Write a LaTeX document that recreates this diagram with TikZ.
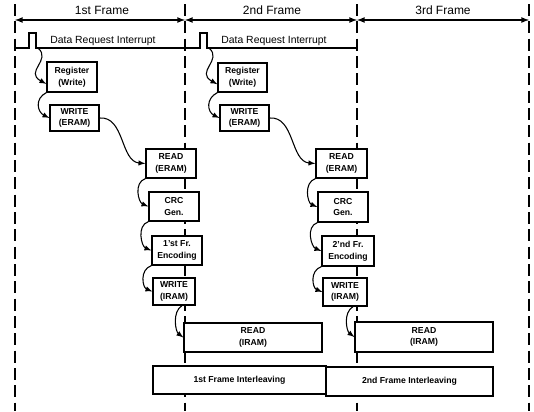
\documentclass[tikz,border=0pt]{standalone}
\usepackage{fontspec}
\setmainfont{Liberation Sans}
\usetikzlibrary{arrows}

\tikzset{
  proc/.style={draw, fill=white, line width=0.9pt, align=center, inner sep=0pt,
    font=\fontsize{6.5}{8.75}\selectfont\bfseries,
    minimum width=37.5pt, minimum height=21.75pt},
  wide/.style={proc, minimum width=103.5pt},
  flow/.style={-latex, line width=0.8pt},
  border/.style={line width=1.1pt, dash pattern=on 9pt off 4pt},
  span/.style={latex-latex, line width=1pt},
  irq/.style={line width=0.8pt},
  lbl/.style={inner sep=0pt, font=\fontsize{9}{10}\selectfont},
  irqlbl/.style={inner sep=0pt, font=\fontsize{7.8}{9}\selectfont}
}

\begin{document}
\begin{tikzpicture}[x=0.75pt,y=0.75pt,yscale=-1,xscale=1]
\useasboundingbox (0,0) rectangle (534,411);

%Frame borders
\draw[border] (15,4) -- (15,411);
\draw[border] (185,4) -- (185,411);
\draw[border] (357,4) -- (357,411);
\draw[border] (529,4) -- (529,411);

%Frame spans
\draw[span] (15,20) -- (185,20);
\draw[span] (185,20) -- (357,20);
\draw[span] (357,20) -- (529,20);
\node[lbl] (f1) at (102,10) {1st Frame};
\node[lbl] (f2) at (272,10) {2nd Frame};
\node[lbl] (f3) at (443,10) {3rd Frame};

%Data request pulses
\draw[irq] (15,48) -- (29,48) -- (29,33) -- (36,33) -- (36,48) -- (185,48);
\draw[irq] (185,48) -- (200,48) -- (200,33) -- (207,33) -- (207,48) -- (357,48);
\coordinate (irq1) at (38,48);
\coordinate (irq2) at (209,48);
\node[irqlbl] (dr1) at (103,41) {Data Request Interrupt};
\node[irqlbl] (dr2) at (274,41) {Data Request Interrupt};

%1st frame
\node[proc, minimum height=22.5pt] (reg1) at (72,77) {Register\\(Write)};
\node[proc, minimum width=36.75pt, minimum height=19.5pt] (wre1) at (74.5,118) {WRITE\\(ERAM)};
\node[proc] (rde1) at (171,163.5) {READ\\(ERAM)};
\node[proc] (crc1) at (174,206.5) {CRC\\Gen.};
\node[proc] (enc1) at (177,250.5) {1'st Fr.\\Encoding};
\node[proc, minimum width=31.5pt, minimum height=20.25pt] (wri1) at (174,291.5) {WRITE\\(IRAM)};
\node[wide] (rdi1) at (253,337.5) {READ\\(IRAM)};
\node[wide, minimum width=129.75pt, minimum height=21pt] (int1) at (239.5,380) {1st Frame Interleaving};

%2nd frame
\node[proc, minimum width=36.75pt] (reg2) at (242.5,77.5) {Register\\(Write)};
\node[proc, minimum width=36.75pt, minimum height=19.5pt] (wre2) at (244.5,118) {WRITE\\(ERAM)};
\node[proc, minimum width=38.25pt] (rde2) at (341.5,163.5) {READ\\(ERAM)};
\node[proc, minimum height=22.5pt] (crc2) at (343,207) {CRC\\Gen.};
\node[proc, minimum width=39pt, minimum height=22.5pt] (enc2) at (348,251) {2'nd Fr.\\Encoding};
\node[proc, minimum width=33pt, minimum height=21pt] (wri2) at (345,292) {WRITE\\(IRAM)};
\node[wide, minimum height=22.5pt] (rdi2) at (424,337) {READ\\(IRAM)};
\node[wide, minimum width=125.25pt, minimum height=21.75pt] (int2) at (409.5,381.5) {2nd Frame Interleaving};

%Flow 1st frame
\draw[flow] (irq1) .. controls (52,60) and (24,72) .. (reg1.195);
\draw[flow] (reg1.south west) .. controls +(-12,6) and +(-12,-6) .. (wre1.west);
\draw[flow] (wre1.east) .. controls +(25,-2) and +(-25,-2) .. (rde1.west);
\draw[flow] (rde1.south west) .. controls +(-12,4) and +(-10,-4) .. (crc1.west);
\draw[flow] (crc1.south west) .. controls +(-12,4) and +(-10,-4) .. (enc1.west);
\draw[flow] (enc1.south west) .. controls +(-12,4) and +(-10,-4) .. (wri1.west);
\draw[flow] ([xshift=6pt]wri1.south) .. controls +(-10,6) and +(-8,-6) .. (rdi1.west);

%Flow 2nd frame
\draw[flow] (irq2) .. controls (223,60) and (195,72) .. (reg2.195);
\draw[flow] (reg2.south west) .. controls +(-12,6) and +(-12,-6) .. (wre2.west);
\draw[flow] (wre2.east) .. controls +(25,-2) and +(-25,-2) .. (rde2.west);
\draw[flow] (rde2.south west) .. controls +(-12,4) and +(-10,-4) .. (crc2.west);
\draw[flow] (crc2.south west) .. controls +(-12,4) and +(-10,-4) .. (enc2.west);
\draw[flow] (enc2.south west) .. controls +(-12,4) and +(-10,-4) .. (wri2.west);
\draw[flow] ([xshift=6pt]wri2.south) .. controls +(-10,6) and +(-8,-6) .. (rdi2.west);

\end{tikzpicture}
\end{document}
